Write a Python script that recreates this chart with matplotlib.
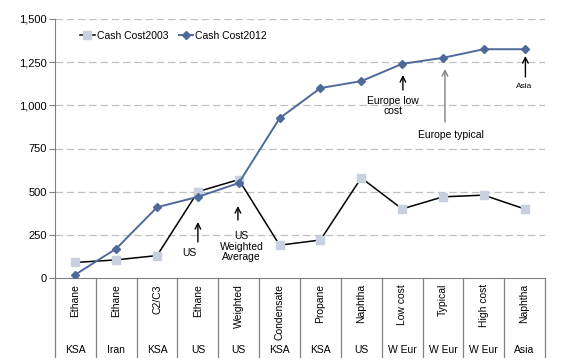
import matplotlib.pyplot as plt
from matplotlib.lines import Line2D

plt.rcParams['font.family'] = ['Liberation Sans', 'DejaVu Sans']

feedstocks = ['Ethane', 'Ethane', 'C2/C3', 'Ethane', 'Weighted', 'Condensate',
              'Propane', 'Naphtha', 'Low cost', 'Typical', 'High cost', 'Naphtha']
regions = ['KSA', 'Iran', 'KSA', 'US', 'US', 'KSA', 'KSA', 'US',
           'W Eur', 'W Eur', 'W Eur', 'Asia']
cost_2003 = [90, 105, 130, 500, 570, 190, 220, 580, 400, 470, 480, 400]
cost_2012 = [20, 170, 410, 470, 550, 925, 1100, 1140, 1240, 1275, 1325, 1325]
yticks = [0, 250, 500, 750, 1000, 1250, 1500]

W, H = 572, 360
fig = plt.figure(figsize=(W / 100, H / 100), dpi=100)
x0, x1, yb, yt = 55, 545, 278, 19
ax = fig.add_axes([x0 / W, (H - yb) / H, (x1 - x0) / W, (yb - yt) / H])

blue = '#4F6A9A'
sq = '#C8D0E0'
x = list(range(len(feedstocks)))

ax.plot(x, cost_2003, color='black', lw=1.1, marker='s', ms=6,
        mfc=sq, mec=sq, zorder=3)
ax.plot(x, cost_2012, color=blue, lw=1.4, marker='D', ms=4,
        mfc=blue, mec=blue, zorder=4)

ax.set_xlim(-0.5, len(x) - 0.5)
ax.set_ylim(0, 1500)
ax.set_yticks(yticks)
ax.set_yticklabels([f'{v:,}' for v in yticks], fontsize=8)
ax.set_xticks([])
for v in yticks[1:]:
    ax.axhline(v, color='#C0C0C0', lw=0.9, ls=(0, (6, 3)), zorder=1)

for s in ['top', 'right']:
    ax.spines[s].set_visible(False)
ax.spines['left'].set_color('#808080')
ax.spines['bottom'].set_color('#808080')
ax.tick_params(axis='y', length=4, color='#808080', pad=2)

# category table below the axis
tr = ax.get_xaxis_transform()
ph = yb - yt
for k in range(len(x) + 1):
    ax.plot([k - 0.5, k - 0.5], [0, -(357 - yb) / ph], transform=tr,
            color='#808080', lw=0.9, clip_on=False)
for i in x:
    ax.text(i, -(284 - yb) / ph, feedstocks[i], transform=tr, rotation=90,
            ha='center', va='top', fontsize=7.5)
    ax.text(i, -(350 - yb) / ph, regions[i], transform=tr,
            ha='center', va='center', fontsize=7.5)

# annotations
def arrow(xi, ytail, yhead, color='black'):
    ax.annotate('', xy=(xi, yhead), xytext=(xi, ytail),
                arrowprops=dict(arrowstyle='->', color=color, lw=1.0,
                                shrinkA=0, shrinkB=0))

def py(p):
    return (yb - p) / ph * 1500

arrow(3, py(242), py(222))
ax.text(2.8, py(253), 'US', ha='center', va='center', fontsize=7.5)
arrow(3.98, py(220), py(206))
ax.text(4.07, py(246.5), 'US\nWeighted\nAverage', ha='center', va='center',
        fontsize=7.5, linespacing=1.05)
arrow(8.02, py(90), py(75))
ax.text(7.77, py(106), 'Europe low\ncost', ha='center', va='center',
        fontsize=7.5, linespacing=1.05)
arrow(9.05, py(122), py(69), color='#808080')
ax.text(9.2, py(135), 'Europe typical', ha='center', va='center', fontsize=7.5)
arrow(11.02, py(77), py(56))
ax.text(10.99, py(87), 'Asia', ha='center', va='center', fontsize=6)

handles = [Line2D([], [], color='black', lw=1.1, marker='s', ms=6, mfc=sq, mec=sq),
           Line2D([], [], color=blue, lw=1.4, marker='D', ms=4, mfc=blue, mec=blue)]
ax.legend(handles, ['Cash Cost2003', 'Cash Cost2012'], loc='center left',
          bbox_to_anchor=((80 - x0) / (x1 - x0), (yb - 36) / ph), ncol=2,
          frameon=False, fontsize=7.5, handlelength=1.4, handletextpad=0.2,
          columnspacing=1.0, borderaxespad=0, borderpad=0)

fig.savefig('out.png', dpi=100)
